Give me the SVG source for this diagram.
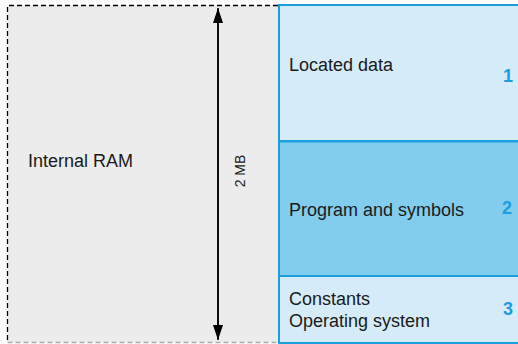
<svg xmlns="http://www.w3.org/2000/svg" width="518" height="344" viewBox="0 0 518 344">
<style>
.t{font-family:"Liberation Sans",Arial,sans-serif;font-size:18px;fill:#1a1a1a}
.n{font-family:"Liberation Sans",Arial,sans-serif;font-size:18px;font-weight:bold;fill:#1a9ee0}
.box{stroke:#1a9ee0;stroke-width:2}
</style>
<defs>
<marker id="ah" viewBox="0 0 10 14" refX="10" refY="7" markerWidth="14" markerHeight="10" markerUnits="userSpaceOnUse" orient="auto">
<path d="M0,0 L10,7 L0,14 Z" fill="#000" transform="scale(1)"/>
</marker>
<marker id="ah2" viewBox="0 0 15 10" refX="15" refY="5" markerWidth="15" markerHeight="10" markerUnits="userSpaceOnUse" orient="auto">
<path d="M0,0 L15,5 L0,10 Z" fill="#000"/>
</marker>
</defs>
<g id="ram">
<rect x="7.5" y="5.5" width="271" height="337" fill="#ececec"/>
<path d="M278,5.5 H7.5 V342" fill="none" stroke="#000" stroke-width="1.3" stroke-dasharray="5,3"/>
<path d="M7.5,342.5 H278" fill="none" stroke="#aaa" stroke-width="1.3" stroke-dasharray="5,3"/>
<text class="t" x="28" y="167">Internal RAM</text>
</g>
<g id="connectors">
<line x1="218" y1="339" x2="218" y2="8" stroke="#000" stroke-width="1.5" marker-end="url(#ah2)"/>
<line x1="218" y1="9" x2="218" y2="340" stroke="#000" stroke-width="1.5" marker-end="url(#ah2)"/>
<text class="t" transform="translate(245,171) rotate(-90)" text-anchor="middle" style="font-size:14px">2 MB</text>
</g>
<g id="box1">
<rect class="box" x="279" y="5" width="245" height="136" fill="#d5ebf8"/>
<text class="t" x="289" y="71">Located data</text>
<text class="n" x="503" y="82">1</text>
</g>
<g id="box2">
<rect class="box" x="279" y="141.5" width="245" height="134.5" fill="#82cdee"/>
<text class="t" x="289" y="216">Program and symbols</text>
<text class="n" x="502" y="214">2</text>
</g>
<g id="box3">
<rect class="box" x="279" y="276" width="245" height="67" fill="#d5ebf8"/>
<text class="t" x="289" y="305">Constants</text>
<text class="t" x="289" y="327">Operating system</text>
<text class="n" x="503" y="315">3</text>
</g>
</svg>
